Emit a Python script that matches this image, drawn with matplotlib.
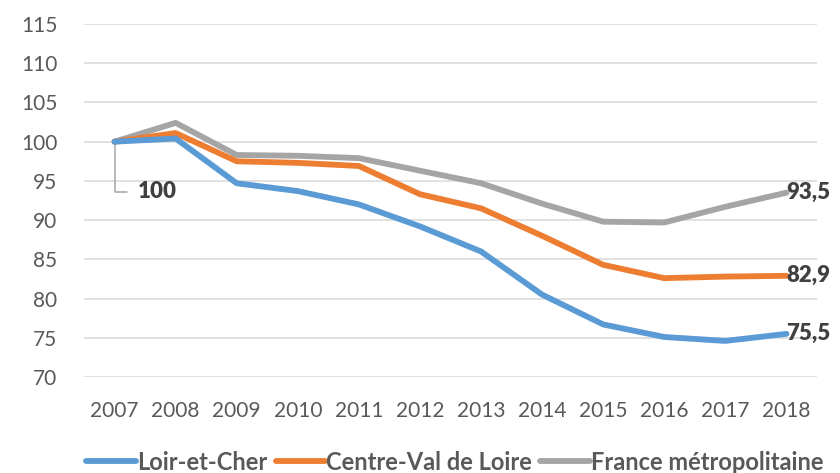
import matplotlib.pyplot as plt

years = ['2007', '2008', '2009', '2010', '2011', '2012',
         '2013', '2014', '2015', '2016', '2017', '2018']
loir_et_cher = [100, 100.4, 94.7, 93.7, 92.0, 89.2, 86.0, 80.5, 76.7, 75.1, 74.6, 75.5]
centre_val = [100, 101.1, 97.5, 97.3, 96.9, 93.3, 91.5, 88.0, 84.3, 82.6, 82.8, 82.9]
france = [100, 102.4, 98.3, 98.2, 97.9, 96.3, 94.7, 92.1, 89.8, 89.7, 91.7, 93.5]
series_names = ['Loir-et-Cher', 'Centre-Val de Loire', 'France métropolitaine']
yticks = [70, 75, 80, 85, 90, 95, 100, 105, 110, 115]

colors = ['#5B9BD5', '#ED7D31', '#A5A5A5']
txt = '#595959'
lbl = '#404040'

plt.rcParams['font.family'] = ['Lato', 'DejaVu Sans']

fig = plt.figure(figsize=(8.4, 4.73), dpi=100)
ax = fig.add_axes([84 / 840, 1 - 377 / 473, (817 - 84) / 840, (377 - 24) / 473])

x = list(range(len(years)))
lines = []
for i, (vals, c, name) in enumerate(zip([loir_et_cher, centre_val, france], colors, series_names)):
    ln, = ax.plot(x, vals, color=c, linewidth=4.2, solid_capstyle='round',
                  solid_joinstyle='round', label=name, zorder=4 - i)
    lines.append(ln)

ax.set_xlim(-0.5, len(years) - 0.5)
ax.set_ylim(70, 115)
ax.set_yticks(yticks)
ax.set_xticks(x)
ax.set_xticklabels(years)
ax.grid(axis='y', color='#D9D9D9', linewidth=1.1)
ax.set_axisbelow(True)
for s in ax.spines.values():
    s.set_visible(False)
ax.tick_params(length=0, labelsize=15, colors=txt)
ax.tick_params(axis='y', pad=19)
ax.tick_params(axis='x', pad=17)

# end labels
for vals in [france, centre_val, loir_et_cher]:
    ax.annotate(f'{vals[-1]:.1f}'.replace('.', ','), (x[-1], vals[-1]),
                xytext=(0, 0), textcoords='offset points', ha='left', va='center',
                fontsize=16, fontweight='heavy', color=lbl, annotation_clip=False)

# first label with leader line
ax.annotate('100', (x[0], france[0]), xytext=(0.38, 93.6), textcoords='data',
            ha='left', va='center', fontsize=16, fontweight='heavy', color=lbl,
            arrowprops=dict(arrowstyle='-', color='#A6A6A6', lw=1.1, relpos=(0, 0.5),
                            connectionstyle='angle,angleA=0,angleB=90,rad=0',
                            shrinkA=6, shrinkB=1))

leg = fig.legend(handles=lines, labels=series_names, loc='center',
                 bbox_to_anchor=(455 / 840, 1 - 462 / 473), ncol=3, frameon=False,
                 handlelength=2.1, handletextpad=0.05, columnspacing=0.35,
                 prop={'size': 17, 'weight': 'bold'})
for t in leg.get_texts():
    t.set_color(txt)

fig.savefig('out.png', dpi=100)
